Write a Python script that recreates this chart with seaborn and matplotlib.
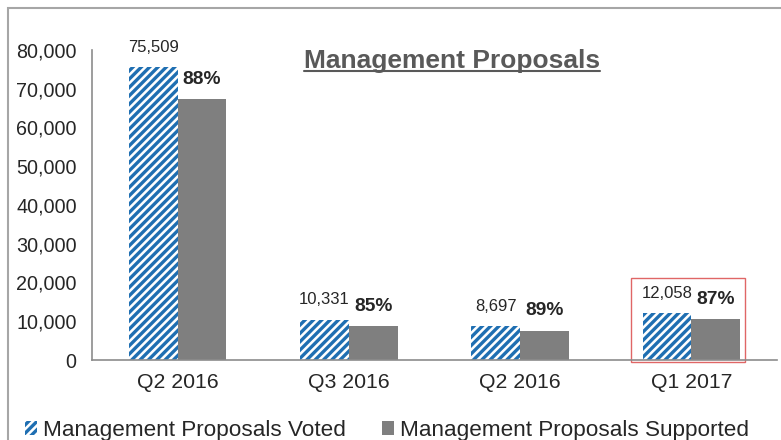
import pandas as pd
import numpy as np
import matplotlib.pyplot as plt
import matplotlib.patches as mpatches
from matplotlib.lines import Line2D
import seaborn as sns

# data
quarters = ["Q2 2016", "Q3 2016", "Q2 2016 ", "Q1 2017"]
tick_labels = ["Q2 2016", "Q3 2016", "Q2 2016", "Q1 2017"]
voted = [75509, 10331, 8697, 12058]
supported = [67300, 8780, 7600, 10500]
pct_supported = ["88%", "85%", "89%", "87%"]
series = ["Management Proposals Voted", "Management Proposals Supported"]

blue = "#1F6FB2"
grey = "#7F7F7F"
axis_grey = "#8C8C8C"

df = pd.DataFrame({
    "quarter": quarters * 2,
    "value": voted + supported,
    "series": [series[0]] * 4 + [series[1]] * 4,
})

sns.set_style("white")
plt.rcParams["font.family"] = ["Liberation Sans", "DejaVu Sans"]
plt.rcParams["hatch.linewidth"] = 2.4

fig = plt.figure(figsize=(7.81, 4.4), dpi=100)
ax = fig.add_axes([92 / 781, 80 / 440, (777 - 92) / 781, 310 / 440])

bar_w = 0.57
sns.barplot(data=df, x="quarter", y="value", hue="series", order=quarters,
            hue_order=series, palette=["white", grey], width=bar_w, gap=0,
            legend=False, ax=ax, saturation=1)

for p in ax.containers[0]:
    p.set_facecolor("white")
    p.set_edgecolor(blue)
    p.set_hatch("////")
    p.set_linewidth(0)
for p in ax.containers[1]:
    p.set_linewidth(0)

ax.bar_label(ax.containers[0], labels=[f"{v:,}" for v in voted],
             padding=9, fontsize=12)
ax.bar_label(ax.containers[1], labels=pct_supported, padding=8,
             fontsize=13.8, fontweight="bold")

ax.set_xlim(-0.5, len(quarters) - 0.5)
ax.set_ylim(0, 80000)
ax.set_yticks(np.arange(0, 80001, 10000))
ax.set_yticklabels([f"{v:,}" for v in range(0, 80001, 10000)], fontsize=14.2)
ax.set_xticks(range(len(quarters)))
ax.set_xticklabels(tick_labels, fontsize=15.3)
ax.set_xticks(np.arange(-0.5, len(quarters), 1), minor=True)
ax.tick_params(axis="x", which="major", length=0, pad=9)
ax.tick_params(axis="x", which="minor", length=5, direction="out",
               color=axis_grey, width=1.2)
ax.tick_params(axis="y", length=5, direction="out", color=axis_grey,
               width=1.2, pad=6)
ax.set_xlabel("")
ax.set_ylabel("")
for s in ["top", "right"]:
    ax.spines[s].set_visible(False)
for s in ["left", "bottom"]:
    ax.spines[s].set_color(axis_grey)
    ax.spines[s].set_linewidth(1.2)

# title, underlined
title = ax.text(0.525, 0.965, "Management Proposals", transform=ax.transAxes,
                ha="center", va="center", fontsize=19, fontweight="bold",
                color="#595959")
fig.canvas.draw()
bb = title.get_window_extent().transformed(fig.transFigure.inverted())
fig.add_artist(Line2D([bb.x0, bb.x1], [bb.y0 + 0.004, bb.y0 + 0.004],
                      transform=fig.transFigure, color="#595959", lw=1.5))

# red box around last quarter
last = len(quarters) - 1
ax.add_patch(mpatches.Rectangle((last - bar_w / 2 - 0.07, -600),
                                bar_w + 0.10, voted[last] + 9700,
                                fill=False, edgecolor="#E06666", lw=1,
                                clip_on=False))

# chart border (top and left visible)
fig.add_artist(mpatches.Rectangle((8 / 781, -0.1), 1.2, 1.1 - 8 / 440,
                                  transform=fig.transFigure, fill=False,
                                  edgecolor="#A6A6A6", lw=1.5))

handles = [
    mpatches.Patch(facecolor="white", edgecolor=blue, hatch="////", linewidth=0),
    mpatches.Patch(facecolor=grey, linewidth=0),
]
fig.legend(handles, series, loc="center", bbox_to_anchor=(0.495, 0.022),
           ncol=2, frameon=False, fontsize=16.2, handlelength=0.55,
           handleheight=0.55, handletextpad=0.25, columnspacing=1.6)

fig.savefig("out.png", dpi=100)
